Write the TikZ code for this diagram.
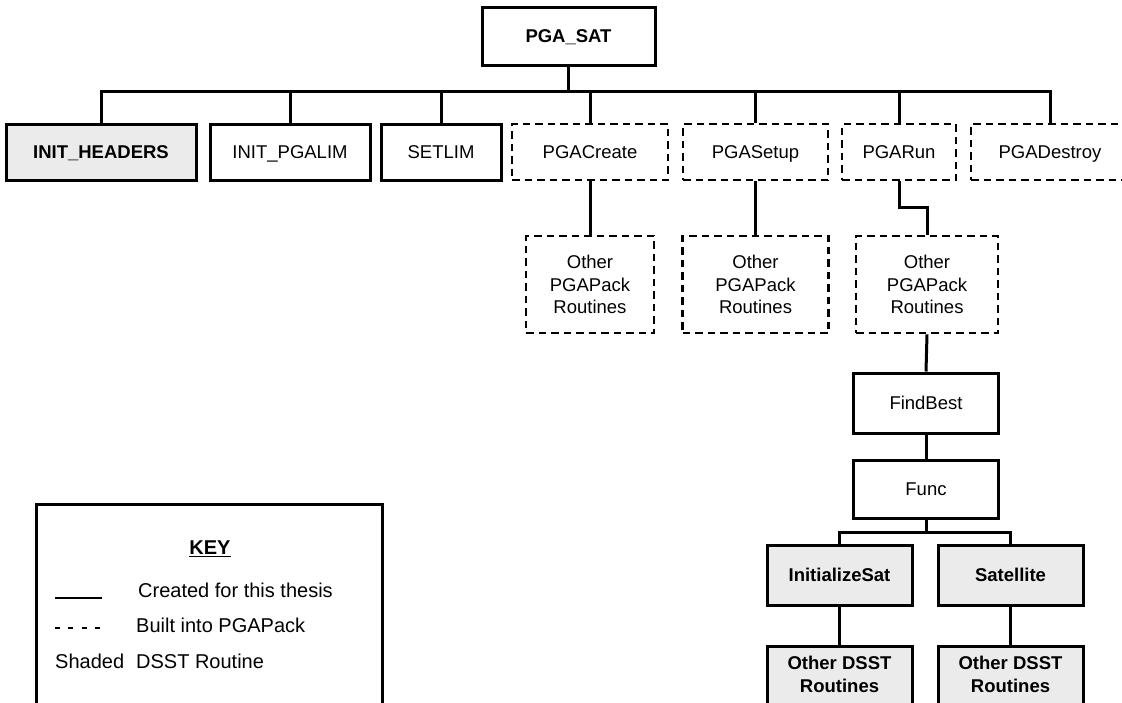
\documentclass[tikz,border=0pt]{standalone}
\usepackage{fontspec}
\setmainfont{Liberation Sans}
\usetikzlibrary{calc}
\tikzset{
  basebox/.style={draw, inner sep=0pt, align=center, minimum height=56pt,
    font=\fontsize{18.5}{22.5}\selectfont},
  solidbox/.style={basebox, line width=3pt},
  dashbox/.style={basebox, line width=2.6pt, dash pattern=on 7.5pt off 5pt},
  shadedbox/.style={solidbox, fill=black!8, font=\fontsize{18.5}{22.5}\selectfont\bfseries},
  oneline/.style={text height=13.3pt, text depth=0pt},
  link/.style={line width=3pt},
  keytext/.style={anchor=west, inner sep=0pt, font=\fontsize{20}{24}\selectfont},
}
\begin{document}
\begin{tikzpicture}[x=1pt, y=-1pt]
\useasboundingbox (0,0) rectangle (1122,702);
\clip (0,0) rectangle (1122,702);
\fill[white] (0,0) rectangle (1122,702);

% top
\node[solidbox, oneline, minimum width=173pt, minimum height=58pt, font=\fontsize{18.5}{22.5}\selectfont\bfseries] (sat) at (568.5,36) {PGA\_SAT};

% row 1
\node[shadedbox, oneline, minimum width=190pt] (hdr) at (101,152) {INIT\_HEADERS};
\node[solidbox, oneline, minimum width=160pt] (pgalim) at (290,152) {INIT\_PGALIM};
\node[solidbox, oneline, minimum width=120pt] (setlim) at (441,152) {SETLIM};
\node[dashbox, oneline, minimum width=156pt] (create) at (590,152) {PGACreate};
\node[dashbox, oneline, minimum width=145pt] (setup) at (755.5,152) {PGASetup};
\node[dashbox, oneline, minimum width=114pt] (run) at (899,152) {PGARun};
\node[dashbox, oneline, minimum width=158pt] (destroy) at (1050,152) {PGADestroy};

% row 2
\node[dashbox, minimum width=128pt, minimum height=97pt] (oa) at (590,284.5) {Other\\PGAPack\\Routines};
\node[dashbox, minimum width=146pt, minimum height=97pt] (ob) at (755.5,284.5) {Other\\PGAPack\\Routines};
\node[dashbox, minimum width=142pt, minimum height=97pt] (oc) at (927,284.5) {Other\\PGAPack\\Routines};

% lower chain
\node[solidbox, oneline, minimum width=145pt, minimum height=60pt] (fb) at (926,403) {FindBest};
\node[solidbox, oneline, minimum width=145pt, minimum height=58pt] (func) at (926,489) {Func};
\node[shadedbox, oneline, minimum width=145pt, minimum height=60pt] (isat) at (839.5,575) {InitializeSat};
\node[shadedbox, oneline, minimum width=145pt, minimum height=60pt] (satl) at (1010.5,575) {Satellite};
\node[shadedbox, minimum width=145pt, anchor=north, inner ysep=10pt, text depth=60pt] (od1) at (839.5,645) {Other DSST\\Routines};
\node[shadedbox, minimum width=145pt, anchor=north, inner ysep=10pt, text depth=60pt] (od2) at (1010.5,645) {Other DSST\\Routines};

% connectors
\coordinate (bus) at (0,91);
\coordinate (jog) at (0,207);
\coordinate (fbus) at (0,532);
\draw[link] (sat.south) -- (sat.south |- bus);
\draw[link] (hdr.north) |- (destroy.north |- bus) -- (destroy.north);
\draw[link] (pgalim.north) -- (pgalim.north |- bus);
\draw[link] (setlim.north) -- (setlim.north |- bus);
\draw[link] (create.north) -- (create.north |- bus);
\draw[link] (setup.north) -- (setup.north |- bus);
\draw[link] (run.north) -- (run.north |- bus);
\draw[link] (create.south) -- (oa.north);
\draw[link] (setup.south) -- (ob.north);
\draw[link] (run.south) |- (oc.north |- jog) -- (oc.north);
\draw[link] (oc.south) -- (fb.north);
\draw[link] (fb.south) -- (func.north);
\draw[link] (func.south) -- (func.south |- fbus);
\draw[link] (isat.north) |- (satl.north |- fbus) -- (satl.north);
\draw[link] (isat.south) -- (od1.north);
\draw[link] (satl.south) -- (od2.north);

% key
\node[draw, line width=2.6pt, minimum width=346pt, minimum height=240pt, anchor=north west, inner sep=0pt] (key) at (35,503) {};
\node[inner sep=0pt, font=\fontsize{20}{24}\selectfont\bfseries] (keyt) at (210,549) {\underline{KEY}};
\coordinate (l1a) at (55,598);
\coordinate (l1b) at (102,598);
\coordinate (l2a) at (55,628);
\coordinate (l2b) at (102,628);
\draw[line width=1.3pt] (l1a) -- (l1b);
\draw[line width=1.6pt, dash pattern=on 5pt off 8.3pt] (l2a) -- (l2b);
\node[keytext] (k1) at (138,590) {Created for this thesis};
\node[keytext] (k2) at (136,625) {Built into PGAPack};
\node[keytext] (k3) at (55,661) {Shaded\hspace{0.6em}DSST Routine};
\end{tikzpicture}
\end{document}
